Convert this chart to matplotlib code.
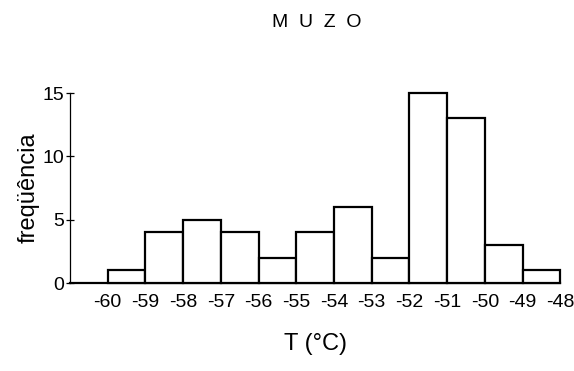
import matplotlib.pyplot as plt

# histogram of T (degC), bins of 1 degree from -60 to -48
bin_edges = [-60, -59, -58, -57, -56, -55, -54, -53, -52, -51, -50, -49, -48]
counts = [1, 4, 5, 4, 2, 4, 6, 2, 15, 13, 3, 1]
yticks = [0, 5, 10, 15]

plt.rcParams['font.family'] = ['Liberation Sans', 'DejaVu Sans']

fig = plt.figure(figsize=(5.74, 3.71), dpi=100)
ax = fig.add_axes([0.122, 0.237, 0.854, 0.512])

ax.bar(bin_edges[:-1], counts, width=1, align='edge', color='white',
       edgecolor='black', linewidth=1.6, clip_on=False, zorder=3)

ax.set_xlim(-61, -48)
ax.set_ylim(0, 15)
ax.set_xticks(bin_edges)
ax.set_xticklabels([str(v) for v in bin_edges])
ax.set_yticks(yticks)

for s in ['top', 'right']:
  ax.spines[s].set_visible(False)
ax.spines['left'].set_linewidth(0.9)
ax.spines['bottom'].set_linewidth(1.6)

ax.tick_params(axis='y', direction='inout', length=6, width=0.9, labelsize=14, pad=1)
ax.tick_params(axis='x', length=0, labelsize=14, pad=8)

ax.set_ylabel("freqüência", fontsize=17, labelpad=2)
ax.set_xlabel("T (°C)", fontsize=17, labelpad=16)

fig.text(0.551, 0.94, "M  U  Z  O", ha='center', va='center', fontsize=14)

fig.savefig("out.png", dpi=100)
